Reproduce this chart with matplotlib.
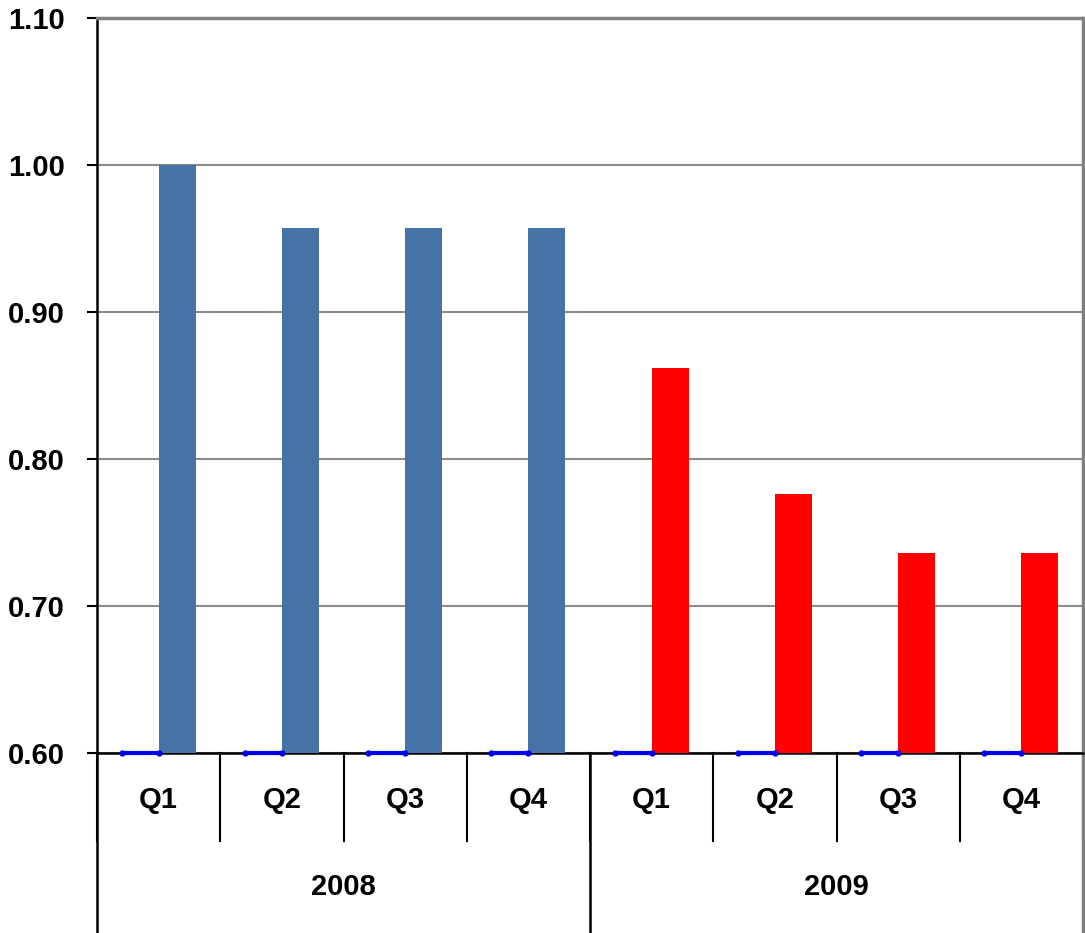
import numpy as np
import matplotlib
matplotlib.use("Agg")
import matplotlib.pyplot as plt
from matplotlib.transforms import blended_transform_factory

plt.rcParams["font.family"] = ["Liberation Sans", "DejaVu Sans"]
plt.rcParams["font.weight"] = "bold"

quarters = ["Q1", "Q2", "Q3", "Q4", "Q1", "Q2", "Q3", "Q4"]
years = ["2008", "2009"]
baseline_series = [0.60, 0.60, 0.60, 0.60, 0.60, 0.60, 0.60, 0.60]
index_series = [1.00, 0.957, 0.957, 0.957, 0.862, 0.776, 0.736, 0.736]
bar_colors = ["#4573A7"] * 4 + ["#FF0000"] * 4

fig = plt.figure(figsize=(10.85, 9.33), dpi=100)
ax = fig.add_axes([97 / 1085, 1 - 753 / 933, 986 / 1085, 735 / 933])

x = np.arange(len(quarters))
w = 0.30
ymin = 0.60
fs = 21

ax.bar(x + w / 2, np.array(index_series) - ymin, width=w, bottom=ymin,
       color=bar_colors, zorder=3)
# flat first series sits on the baseline as a short blue line with end dots
for xi, v in zip(x, baseline_series):
    ax.plot([xi - w, xi], [v, v], color="#0000EE", linewidth=3,
            marker="o", markersize=3.5, solid_capstyle="butt",
            zorder=5, clip_on=False)

ax.set_xlim(-0.5, len(quarters) - 0.5)
ax.set_ylim(0.60, 1.10)
ticks = np.arange(0.60, 1.101, 0.10)
ax.set_yticks(ticks)
ax.set_yticklabels([f"{v:.2f}" for v in ticks], fontsize=fs, fontweight="bold")
ax.yaxis.grid(True, color="#8c8c8c", linewidth=1.5)
ax.set_axisbelow(True)
ax.tick_params(axis="y", direction="out", length=7, width=1.5, pad=16)
ax.set_xticks([])

for side in ["left", "bottom"]:
    ax.spines[side].set_color("black")
    ax.spines[side].set_linewidth(1.8)
for side in ["top", "right"]:
    ax.spines[side].set_color("#808080")
    ax.spines[side].set_linewidth(2.5)

# two-level category axis below the plot
trans = blended_transform_factory(ax.transData, ax.transAxes)
for i, q in enumerate(quarters):
    ax.text(i, -0.064, q, transform=trans, ha="center", va="center",
            fontsize=fs, fontweight="bold")
for edge in np.arange(-0.5, len(quarters), 1.0):
    ax.plot([edge, edge], [0, -0.12], transform=trans, color="black",
            linewidth=1.5, clip_on=False)

group_size = 4
for g, year in enumerate(years):
    center = g * group_size + (group_size - 1) / 2
    ax.text(center, -0.182, year, transform=trans, ha="center", va="center",
            fontsize=fs, fontweight="bold")
for g in range(len(years) + 1):
    edge = g * group_size - 0.5
    last = g == len(years)
    ax.plot([edge, edge], [0, -0.26], transform=trans,
            color="#808080" if last else "black",
            linewidth=2.5 if last else 1.8, clip_on=False)

fig.savefig("out.png", dpi=100)
